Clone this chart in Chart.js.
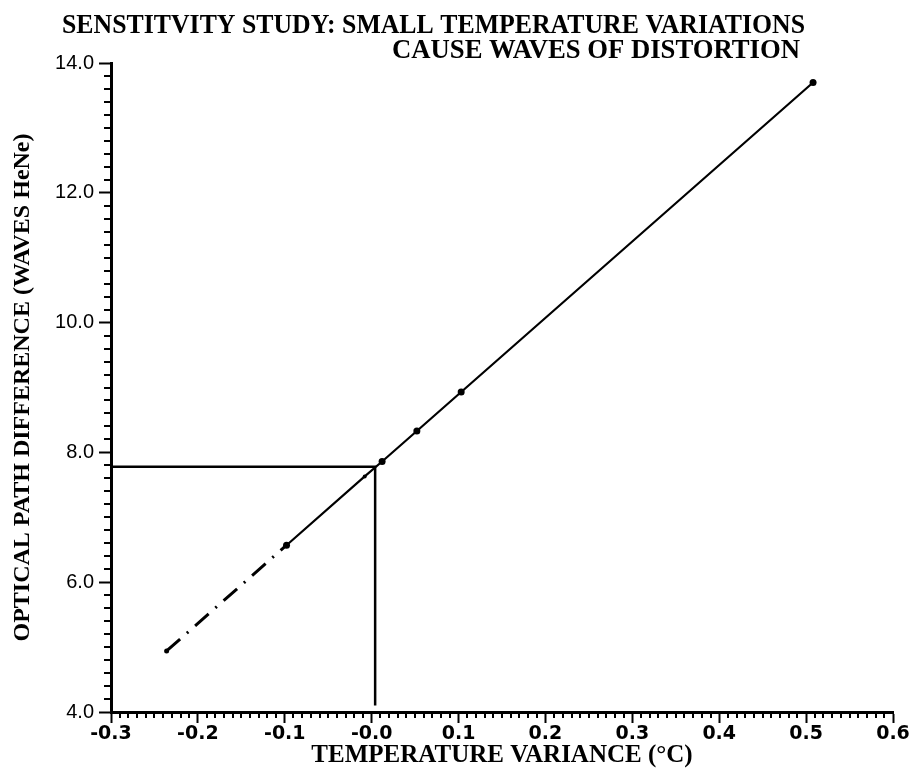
<!DOCTYPE html>
<html>
<head>
<meta charset="utf-8">
<title>Sensitivity study</title>
<script src="https://cdn.jsdelivr.net/npm/chart.js@4.4.1/dist/chart.umd.min.js"></script>
<style>
  html, body { margin: 0; padding: 0; background: #fff; }
  #chart { display: block; }
</style>
</head>
<body>
<canvas id="chart" width="912" height="775"></canvas>
<script>
// values
const titleLines = ['SENSTITVITY STUDY: SMALL TEMPERATURE VARIATIONS', 'CAUSE WAVES OF DISTORTION'];
const xTitle = 'TEMPERATURE VARIANCE (°C)';
const yTitle = 'OPTICAL PATH DIFFERENCE (WAVES HeNe)';
const xTickLabels = ['-0.3', '-0.2', '-0.1', '-0.0', '0.1', '0.2', '0.3', '0.4', '0.5', '0.6'];
const yTickLabels = ['4.0', '6.0', '8.0', '10.0', '12.0', '14.0'];

// measured points (solid part of the curve)
const measuredX = [-0.098, -0.008, 0.012, 0.052, 0.103, 0.508];
const measuredY = [6.57, 7.63, 7.86, 8.33, 8.93, 13.70];
// extrapolated part (dash-dot)
const extrapX = [-0.236, -0.098];
const extrapY = [4.94, 6.57];
// read-off guide at zero variance
const guideX = [-0.3, 0.004, 0.004];
const guideY = [7.78, 7.78, 4.1];

const toPoints = (xs, ys) => xs.map((x, i) => ({ x: x, y: ys[i] }));

// squeeze a line of text to a given width (the original lettering is condensed)
function fitText(ctx, text, left, baseline, width) {
  const w = ctx.measureText(text).width;
  ctx.save();
  ctx.translate(left, baseline);
  ctx.scale(width / w, 1);
  ctx.fillText(text, 0, 0);
  ctx.restore();
}

const headerPlugin = {
  id: 'header',
  afterDraw(chart) {
    const ctx = chart.ctx;
    ctx.save();
    ctx.fillStyle = '#000';
    ctx.font = 'bold 28px "Liberation Serif"';
    ctx.textBaseline = 'alphabetic';
    fitText(ctx, titleLines[0], 62, 33, 743);
    fitText(ctx, titleLines[1], 392, 58, 408);
    ctx.restore();
  }
};

// short ticks between the labelled ones
const minorTicksPlugin = {
  id: 'minorTicks',
  afterDraw(chart) {
    const ctx = chart.ctx;
    const xs = chart.scales.x;
    const ys = chart.scales.y;
    ctx.save();
    ctx.strokeStyle = '#000';
    ctx.lineWidth = 2;
    ctx.beginPath();
    for (let i = -30; i <= 60; i++) {
      if (i % 10 === 0) continue;
      const px = Math.round(xs.getPixelForValue(i / 100));
      ctx.moveTo(px, xs.top);
      ctx.lineTo(px, xs.top + 6);
    }
    for (let i = 20; i <= 70; i++) {
      if (i % 10 === 0) continue;
      const py = Math.round(ys.getPixelForValue(i / 5));
      ctx.moveTo(ys.right, py);
      ctx.lineTo(ys.right - 7, py);
    }
    ctx.stroke();
    ctx.restore();
  }
};

const ctx = document.getElementById('chart').getContext('2d');

new Chart(ctx, {
  type: 'scatter',
  data: {
    datasets: [
      {
        label: 'guide',
        data: toPoints(guideX, guideY),
        showLine: true,
        borderColor: '#000',
        borderWidth: 2.5,
        pointRadius: 0,
      },
      {
        label: 'extrapolated',
        data: toPoints(extrapX, extrapY),
        showLine: true,
        borderColor: '#000',
        backgroundColor: '#000',
        borderWidth: 3,
        borderDash: [18, 9, 2, 9],
        pointRadius: c => (c.dataIndex === 0 ? 2.5 : 0),
        pointBorderWidth: 0,
      },
      {
        label: 'measured',
        data: toPoints(measuredX, measuredY),
        showLine: true,
        borderColor: '#000',
        backgroundColor: '#000',
        borderWidth: 2.2,
        pointRadius: c => (c.dataIndex === 1 ? 2 : 3.5),
        pointBorderWidth: 0,
      },
    ],
  },
  options: {
    responsive: false,
    animation: false,
    layout: { padding: { top: 63, right: 19, left: 0, bottom: 0 } },
    plugins: {
      legend: { display: false },
      tooltip: { enabled: false },
    },
    scales: {
      x: {
        type: 'linear',
        min: -0.3,
        max: 0.6,
        afterFit: s => { s.height = 63; },
        ticks: {
          stepSize: 0.1,
          autoSkip: false,
          maxRotation: 0,
          padding: 0,
          color: '#000',
          font: { family: '"DejaVu Sans"', size: 19, weight: 'bold' },
          callback: (v, i) => xTickLabels[i],
        },
        grid: { drawOnChartArea: false, tickLength: 11, tickWidth: 2, tickColor: '#000' },
        border: { color: '#000', width: 3 },
        title: {
          display: true,
          text: xTitle,
          color: '#000',
          padding: { top: 0, bottom: 4 },
          font: { family: '"Liberation Serif"', size: 25, weight: 'bold' },
        },
      },
      y: {
        type: 'linear',
        min: 4,
        max: 14,
        afterFit: s => { s.width = 111; },
        ticks: {
          stepSize: 2,
          autoSkip: false,
          padding: 5,
          color: '#000',
          font: { family: '"Liberation Sans"', size: 20 },
          callback: (v, i) => yTickLabels[i],
        },
        grid: { drawOnChartArea: false, tickLength: 12, tickWidth: 2, tickColor: '#000' },
        border: { color: '#000', width: 3 },
        title: {
          display: true,
          text: yTitle,
          color: '#000',
          padding: { top: 8, bottom: 0 },
          font: { family: '"Liberation Serif"', size: 24, weight: 'bold' },
        },
      },
    },
  },
  plugins: [headerPlugin, minorTicksPlugin],
});
</script>
</body>
</html>
